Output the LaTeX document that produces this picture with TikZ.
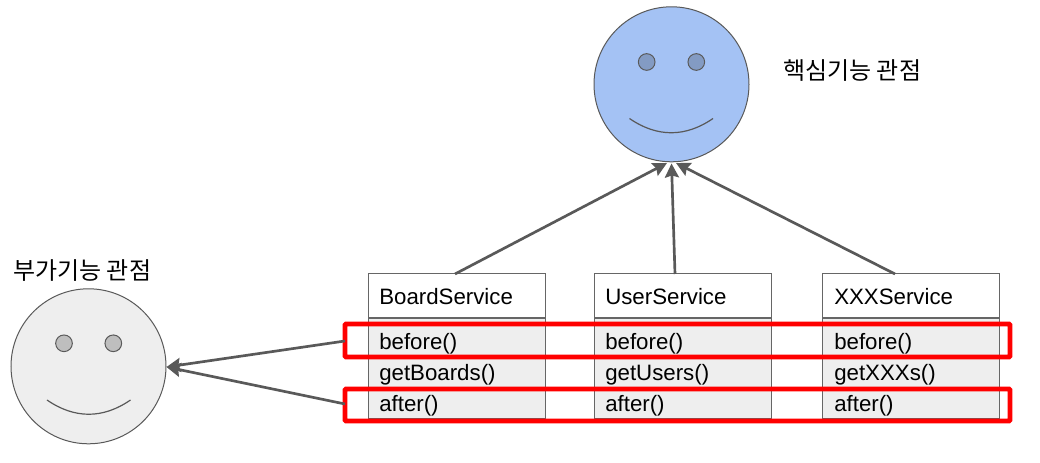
\documentclass[tikz,border=0pt]{standalone}
\usepackage{fontspec}
\setmainfont{Liberation Sans}
\newfontfamily\krfont{Noto Sans CJK KR}
\usetikzlibrary{arrows.meta}
\definecolor{edgegray}{HTML}{595959}
\definecolor{boxline}{HTML}{666666}
\definecolor{rowgray}{HTML}{EEEEEE}
\definecolor{topblue}{HTML}{A4C2F4}
\definecolor{topeye}{HTML}{839BC3}
\definecolor{lefteye}{HTML}{BEBEBE}
\tikzset{
  face/.style={circle,draw=edgegray,line width=.75pt,minimum size=116.25pt,inner sep=0pt},
  eye/.style={circle,draw=edgegray,line width=.75pt,minimum size=12.5pt,inner sep=0pt},
  smile/.style={draw=edgegray,line width=.9pt},
  titlebox/.style={rectangle,draw=boxline,line width=.75pt,fill=white,minimum width=132.75pt,minimum height=33pt,inner sep=0pt},
  rowbox/.style={rectangle,draw=boxline,line width=.75pt,fill=rowgray,minimum width=132.75pt,minimum height=75pt,inner sep=0pt},
  arrowline/.style={draw=edgegray,line width=2pt,-{Stealth[length=10.5pt,width=10.5pt,inset=1.5pt]}},
  redband/.style={rectangle,draw=red,line width=3.4pt,rounded corners=.6pt,minimum width=498.75pt,inner sep=0pt},
  label/.style={anchor=base west,inner sep=0pt,font=\fontsize{16.7pt}{19pt}\selectfont},
  krlabel/.style={anchor=base west,inner sep=0pt,font=\krfont\fontsize{18pt}{20pt}\selectfont}
}
\begin{document}
\begin{tikzpicture}[x=.75pt,y=-.75pt]
\useasboundingbox (0,0) rectangle (1040,463);
\fill[white] (0,0) rectangle (1040,463);

% faces
\node[face,fill=topblue] (topface) at (671.5,84.3) {};
\node[eye,fill=topeye] (topeyeL) at (646.7,62) {};
\node[eye,fill=topeye] (topeyeR) at (696.3,62) {};
\coordinate (topsmileL) at (629.5,118.5);
\coordinate (topsmileR) at (713,118.5);
\draw[smile] (topsmileL) .. controls (657,137.5) and (685.5,137.5) .. (topsmileR);

\node[face,fill=rowgray] (leftface) at (88.5,366.3) {};
\node[eye,fill=lefteye] (lefteyeL) at (64,343.3) {};
\node[eye,fill=lefteye] (lefteyeR) at (113.3,343.3) {};
\coordinate (leftsmileL) at (47,400);
\coordinate (leftsmileR) at (130.5,400);
\draw[smile] (leftsmileL) .. controls (74.5,419) and (103,419) .. (leftsmileR);

% labels
\node[krlabel] (topcaption) at (783,80) {핵심기능 관점};
\node[krlabel] (leftcaption) at (13,279.5) {부가기능 관점};

% class boxes
\node[rowbox] (boardrows) at (456.5,369) {};
\node[titlebox] (boardtitle) at (456.5,296) {};
\node[rowbox] (userrows) at (682.5,369) {};
\node[titlebox] (usertitle) at (682.5,296) {};
\node[rowbox] (xxxrows) at (911,369) {};
\node[titlebox] (xxxtitle) at (911,296) {};

\node[label] (t1) at (379,304.5) {BoardService};
\node[label] (a1) at (379,349.5) {before()};
\node[label] (b1) at (379,380.5) {getBoards()};
\node[label] (c1) at (379,412) {after()};

\node[label] (t2) at (605,304.5) {UserService};
\node[label] (a2) at (605,349.5) {before()};
\node[label] (b2) at (605,380.5) {getUsers()};
\node[label] (c2) at (605,412) {after()};

\node[label] (t3) at (834,304.5) {XXXService};
\node[label] (a3) at (834,349.5) {before()};
\node[label] (b3) at (834,380.5) {getXXXs()};
\node[label] (c3) at (834,412) {after()};

% red highlight bands
\node[redband,minimum height=24.75pt] (beforeband) at (677.5,340.5) {};
\node[redband,minimum height=24pt] (afterband) at (677.5,405) {};

% connectors
\coordinate (boardtop) at (455,274);
\coordinate (usertop) at (675,274);
\coordinate (xxxtop) at (895,274);
\coordinate (tipA) at (667,163);
\coordinate (tipB) at (671.5,163.5);
\coordinate (tipC) at (676,163);
\coordinate (tipL) at (166.5,367);
\coordinate (beforeleft) at (345,341);
\coordinate (afterleft) at (345,404);
\draw[arrowline] (boardtop) -- (tipA);
\draw[arrowline] (usertop) -- (tipB);
\draw[arrowline] (xxxtop) -- (tipC);
\draw[arrowline] (beforeleft) -- (tipL);
\draw[arrowline] (afterleft) -- (tipL);
\end{tikzpicture}
\end{document}
